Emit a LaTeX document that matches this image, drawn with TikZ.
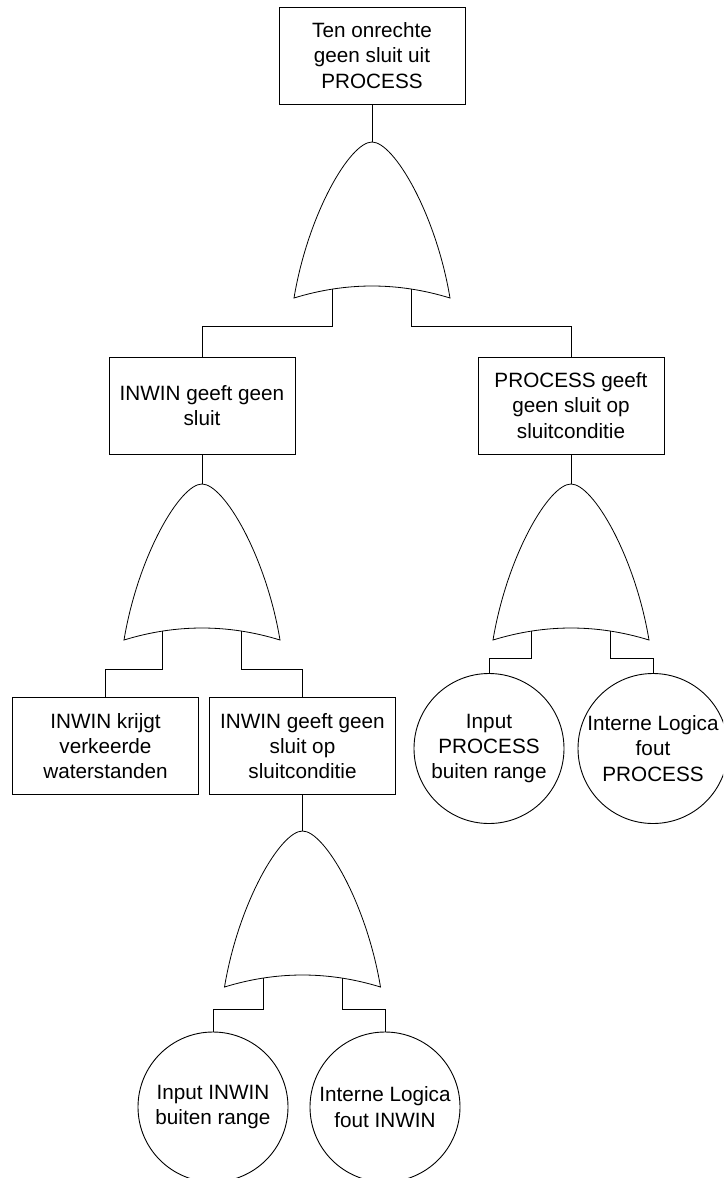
\documentclass[tikz,border=0pt]{standalone}
\usepackage{fontspec}
\setmainfont{Liberation Sans}
\begin{document}
\begin{tikzpicture}[x=1pt,y=-1pt,
  every node/.style={font=\fontsize{20.7}{25.3}\selectfont},
  event/.style={draw, rectangle, minimum width=186pt, minimum height=97pt,
    align=center, inner sep=0pt, line width=0.9pt},
  basic/.style={draw, circle, minimum size=150pt, align=center,
    inner sep=0pt, line width=0.9pt},
  link/.style={line width=0.9pt},
  gateline/.style={line width=0.8pt},
  orgate/.pic={
    \draw[gateline] (-78,156) .. controls (-64,72) and (-22,0) .. (0,0)
      .. controls (22,0) and (64,72) .. (78,156)
      .. controls (26,140) and (-26,140) .. cycle;
    \coordinate (-top) at (0,0);
    \coordinate (-in1) at (-39.5,147);
    \coordinate (-in2) at (39.5,147);
  }]
\useasboundingbox (0,0) rectangle (723,1178);
\clip (0,0) rectangle (723,1178);

% events
\node[event] (top) at (372,55.5) {Ten onrechte\\geen sluit uit\\PROCESS};
\node[event] (inwin) at (202,405.5) {INWIN geeft geen\\sluit};
\node[event] (proc) at (571,405.5) {PROCESS geeft\\geen sluit op\\sluitconditie};
\node[event] (krijgt) at (105.5,746) {INWIN krijgt\\verkeerde\\waterstanden};
\node[event] (inwinop) at (302.5,746) {INWIN geeft geen\\sluit op\\sluitconditie};

% basic events
\node[basic] (inproc) at (489,748.5) {Input\\PROCESS\\buiten range};
\node[basic] (logproc) at (653,748.5) {Interne Logica\\fout\\PROCESS};
\node[basic] (ininwin) at (213,1107) {Input INWIN\\buiten range};
\node[basic] (loginwin) at (385,1107) {Interne Logica\\fout INWIN};

% OR gates
\pic (g1) at (372,142) {orgate};
\pic (g2) at (202,484) {orgate};
\pic (g4) at (571,484) {orgate};
\pic (g3) at (302.5,831) {orgate};

% connectors
\draw[link] (top.south) -- (g1-top);
\draw[link] (g1-in1) -- (g1-in1 |- 0,326) -| (inwin.north);
\draw[link] (g1-in2) -- (g1-in2 |- 0,326) -| (proc.north);
\draw[link] (inwin.south) -- (g2-top);
\draw[link] (proc.south) -- (g4-top);
\draw[link] (g2-in1) -- (g2-in1 |- 0,669) -| (krijgt.north);
\draw[link] (g2-in2) -- (g2-in2 |- 0,669) -| (inwinop.north);
\draw[link] (inwinop.south) -- (g3-top);
\draw[link] (g4-in1) -- (g4-in1 |- 0,658) -| (inproc.north);
\draw[link] (g4-in2) -- (g4-in2 |- 0,658) -| (logproc.north);
\draw[link] (g3-in1) -- (g3-in1 |- 0,1009) -| (ininwin.north);
\draw[link] (g3-in2) -- (g3-in2 |- 0,1009) -| (loginwin.north);
\end{tikzpicture}
\end{document}
